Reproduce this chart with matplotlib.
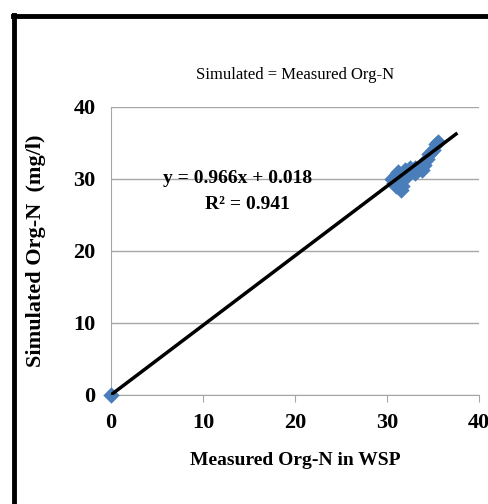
import numpy as np
import matplotlib.pyplot as plt
from matplotlib.lines import Line2D

# measured vs simulated Org-N (mg/l)
measured = [0.0, 30.5, 30.8, 31.0, 31.2, 31.5, 31.6, 31.8, 32.0, 32.2, 32.5, 33.0,
            33.0, 33.5, 33.8, 34.0, 34.3, 34.6, 35.0, 35.3, 35.5, 31.0]
simulated = [0.0, 30.0, 29.5, 30.5, 31.0, 28.5, 29.0, 30.0, 31.3, 30.5, 31.5, 31.5,
             30.8, 31.5, 31.2, 32.0, 32.8, 33.5, 34.0, 34.8, 35.2, 29.0]
slope, intercept = 0.966, 0.018
fit_x = [0.0, 37.5]

plt.rcParams['font.family'] = 'Liberation Serif'

fig = plt.figure(figsize=(4.89, 5.04), dpi=100)
ax = fig.add_axes([0.227, 0.2163, 0.7526, 0.5714])

ax.scatter(measured, simulated, marker='D', s=70, color='#4a7ebb', zorder=3,
           linewidths=0, clip_on=False)
fit_y = [slope * v + intercept for v in fit_x]
ax.plot(fit_x, fit_y, color='black', lw=2.5, zorder=4)

ax.set_xlim(0, 40)
ax.set_ylim(0, 40)
ax.set_xticks([0, 10, 20, 30, 40])
ax.set_yticks([0, 10, 20, 30, 40])
ax.grid(axis='y', color='#a6a6a6', lw=1)
ax.set_axisbelow(True)
for s in ['top', 'right']:
    ax.spines[s].set_visible(False)
for s in ['left', 'bottom']:
    ax.spines[s].set_color('#a6a6a6')
ax.tick_params(axis='y', length=0, pad=11, labelsize=16)
ax.tick_params(axis='x', length=5, color='#a6a6a6', pad=8, labelsize=16)
for lab in ax.get_xticklabels() + ax.get_yticklabels():
    lab.set_fontweight('bold')

ax.set_xlabel('Measured Org-N in WSP', fontsize=14, fontweight='bold', labelpad=14)
ax.set_ylabel('Simulated Org-N  (mg/l)', fontsize=16, fontweight='bold', labelpad=20)
ax.text(0.5, 1.085, 'Simulated = Measured Org-N', transform=ax.transAxes,
        ha='center', va='bottom', fontsize=12)

ax.text(13.8, 30.1, 'y = 0.966x + 0.018', fontsize=14, fontweight='bold',
        ha='center', va='center')
ax.text(14.8, 26.4, 'R² = 0.941', fontsize=14, fontweight='bold',
        ha='center', va='center')

# outer frame (top and left edges visible)
fig.add_artist(Line2D([0.026, 1.0], [0.968, 0.968], color='black', lw=3.5, transform=fig.transFigure))
fig.add_artist(Line2D([0.029, 0.029], [0.0, 0.970], color='black', lw=3.5, transform=fig.transFigure))

fig.savefig('out.png', dpi=100)
